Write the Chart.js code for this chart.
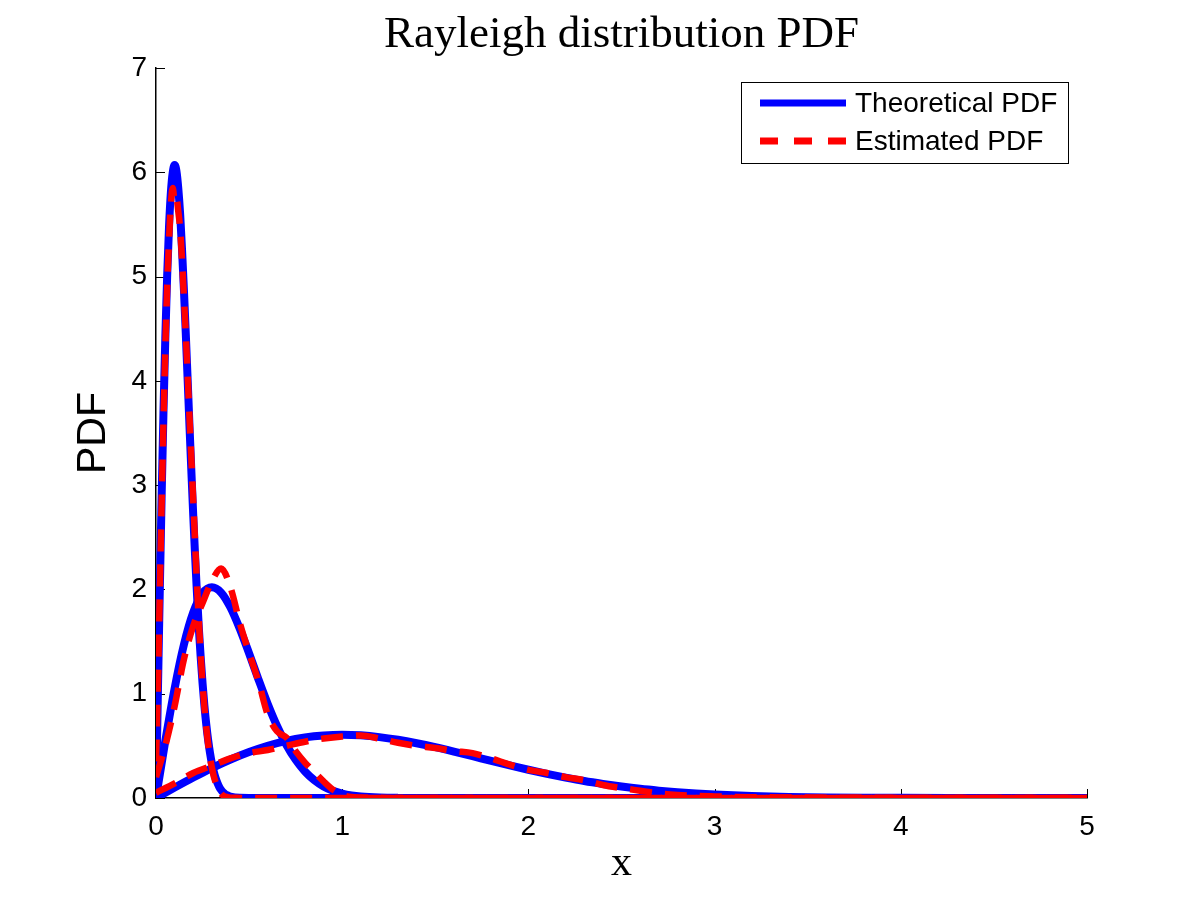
<!DOCTYPE html>
<html>
<head>
<meta charset="utf-8">
<script src="https://cdn.jsdelivr.net/npm/chart.js@4.4.1/dist/chart.umd.min.js"></script>
<style>
  html, body { margin: 0; padding: 0; background: #ffffff; }
  #wrap { width: 1200px; height: 903px; position: relative; }
</style>
</head>
<body>
<div id="wrap"><canvas id="c"></canvas></div>
<script>
// ---- data ----
const xTicks = [0, 1, 2, 3, 4, 5];
const yTicks = [0, 1, 2, 3, 4, 5, 6, 7];
const legendLabels = ['Theoretical PDF', 'Estimated PDF'];

// sigma = 0.1
const sigma01X = [0,0.01,0.02,0.03,0.04,0.05,0.06,0.07,0.08,0.09,0.10,0.11,0.12,0.13,0.14,0.15,0.16,0.17,0.18,0.19,0.20,
  0.21,0.22,0.23,0.24,0.25,0.26,0.27,0.28,0.29,0.30,0.31,0.32,0.33,0.34,0.35,0.36,0.37,0.38,0.39,0.40,0.45,0.5,1,2,3,4,5];
const sigma01Theoretical = [0,0.995,1.96,2.87,3.69,4.41,5.01,5.48,5.81,6.00,6.07,6.01,5.84,5.59,5.25,4.87,4.45,4.01,3.56,3.13,2.71,
  2.32,1.96,1.63,1.35,1.10,0.885,0.705,0.556,0.433,0.333,0.254,0.191,0.143,0.105,0.0767,0.055,0.0394,0.028,0.0194,0.0134,0.0018,0.0002,0,0,0,0,0];
const sigma01Estimated = [0.35,1.05,1.95,2.8,3.6,4.3,4.9,5.35,5.7,5.85,5.72,5.75,5.62,5.45,5.15,4.8,4.45,4.05,3.65,3.25,2.85,
  2.45,2.05,1.7,1.38,1.1,0.87,0.68,0.52,0.39,0.29,0.21,0.15,0.1,0.065,0.04,0.025,0.015,0.01,0.005,0.003,0.001,0,0,0,0,0,0];

// sigma = 0.3
const sigma03X = [0,0.05,0.1,0.15,0.2,0.25,0.3,0.35,0.4,0.45,0.5,0.55,0.6,0.65,0.7,0.75,0.8,0.85,0.9,0.95,1.0,1.05,1.1,1.2,1.3,1.5,2,3,4,5];
const sigma03Theoretical = [0,0.548,1.051,1.471,1.78,1.963,2.02,1.969,1.827,1.623,1.386,1.138,0.902,0.691,0.511,0.366,0.254,0.171,0.111,0.070,0.043,0.0255,0.0147,0.0045,0.0012,0.0001,0,0,0,0];
const sigma03Estimated = [0.2,0.5,0.88,1.33,1.65,1.87,2.08,2.2,2.02,1.68,1.39,1.12,0.8,0.64,0.58,0.45,0.34,0.25,0.16,0.08,0.03,0.01,0.005,0.002,0.001,0,0,0,0,0];

// sigma = 1
const sigma1X = [0,0.1,0.2,0.3,0.4,0.5,0.6,0.7,0.8,0.9,1.0,1.1,1.2,1.3,1.4,1.5,1.6,1.7,1.8,1.9,2.0,2.1,2.2,2.3,2.4,2.5,2.6,2.7,2.8,2.9,3.0,3.2,3.4,3.6,3.8,4.0,4.5,5];
const sigma1Theoretical = [0,0.0995,0.196,0.287,0.369,0.441,0.501,0.548,0.581,0.600,0.607,0.601,0.584,0.558,0.525,0.487,0.445,0.401,0.356,0.313,0.271,0.232,0.196,0.163,0.135,0.110,0.0883,0.0706,0.0555,0.0433,0.0333,0.0191,0.0105,0.0055,0.0028,0.0013,0.0002,0];
const sigma1Estimated = [0.05,0.14,0.24,0.31,0.38,0.43,0.46,0.5,0.54,0.57,0.59,0.6,0.57,0.53,0.5,0.48,0.45,0.43,0.38,0.32,0.27,0.24,0.2,0.17,0.125,0.095,0.07,0.045,0.03,0.02,0.015,0.008,0.005,0.003,0.002,0.001,0,0];

// ---- styles ----
const BLUE = '#0000ff';
const RED = '#ff0000';
const BLUE_W = 8;
const RED_W = 6.5;
const DASH = [22, 13];

const pts = (xs, ys) => xs.map((x, i) => ({ x: x, y: ys[i] }));

function theoSet(xs, ys) {
  return { label: legendLabels[0], data: pts(xs, ys), borderColor: BLUE, backgroundColor: BLUE,
    borderWidth: BLUE_W, pointRadius: 0, fill: false, cubicInterpolationMode: 'monotone',
    borderCapStyle: 'butt', borderJoinStyle: 'round', order: 1 };
}
function estSet(xs, ys) {
  return { label: legendLabels[1], data: pts(xs, ys), borderColor: RED, backgroundColor: RED,
    borderWidth: RED_W, borderDash: DASH, pointRadius: 0, fill: false, cubicInterpolationMode: 'monotone',
    borderCapStyle: 'butt', borderJoinStyle: 'round', order: 0 };
}

// inward tick marks (MATLAB style)
const inwardTicks = {
  id: 'inwardTicks',
  beforeDatasetsDraw(chart) {
    const { ctx, chartArea, scales } = chart;
    ctx.save();
    ctx.strokeStyle = '#000';
    ctx.lineWidth = 1;
    const len = 9;
    yTicks.forEach(v => {
      const py = Math.round(scales.y.getPixelForValue(v)) + 0.5;
      ctx.beginPath();
      ctx.moveTo(chartArea.left, py);
      ctx.lineTo(chartArea.left + len, py);
      ctx.stroke();
    });
    xTicks.forEach(v => {
      const px = Math.round(scales.x.getPixelForValue(v)) + 0.5;
      ctx.beginPath();
      ctx.moveTo(px, chartArea.bottom);
      ctx.lineTo(px, chartArea.bottom - len);
      ctx.stroke();
    });
    ctx.restore();
  }
};

// boxed legend
const boxLegend = {
  id: 'boxLegend',
  afterDraw(chart) {
    const { ctx } = chart;
    const bx = 741.5, by = 82.5, bw = 327, bh = 81;
    ctx.save();
    ctx.fillStyle = '#fff';
    ctx.fillRect(bx, by, bw, bh);
    ctx.strokeStyle = '#000';
    ctx.lineWidth = 1;
    ctx.strokeRect(bx, by, bw, bh);
    const rows = [
      { y: 103, color: BLUE, w: 7, dash: [] , text: legendLabels[0] },
      { y: 141, color: RED, w: 7, dash: [18, 16], text: legendLabels[1] }
    ];
    rows.forEach(r => {
      ctx.beginPath();
      ctx.setLineDash(r.dash);
      ctx.strokeStyle = r.color;
      ctx.lineWidth = r.w;
      ctx.lineCap = 'butt';
      ctx.moveTo(760, r.y);
      ctx.lineTo(846, r.y);
      ctx.stroke();
      ctx.setLineDash([]);
      ctx.fillStyle = '#000';
      ctx.font = '28px "Liberation Sans", Arial, sans-serif';
      ctx.textAlign = 'left';
      ctx.textBaseline = 'middle';
      ctx.fillText(r.text, 855, r.y + 1);
    });
    ctx.restore();
  }
};

Chart.defaults.font.family = '"Liberation Sans", Arial, sans-serif';
Chart.defaults.color = '#000';

new Chart(document.getElementById('c'), {
  type: 'line',
  data: {
    datasets: [
      theoSet(sigma01X, sigma01Theoretical),
      theoSet(sigma03X, sigma03Theoretical),
      theoSet(sigma1X, sigma1Theoretical),
      estSet(sigma01X, sigma01Estimated),
      estSet(sigma03X, sigma03Estimated),
      estSet(sigma1X, sigma1Estimated)
    ]
  },
  options: {
    responsive: true,
    maintainAspectRatio: false,
    animation: false,
    events: [],
    layout: { padding: { left: 0, right: 113, top: 0, bottom: 0 } },
    plugins: {
      legend: { display: false },
      tooltip: { enabled: false },
      title: {
        display: true,
        fullSize: false,
        text: 'Rayleigh distribution PDF',
        color: '#000',
        font: { family: '"Liberation Serif", "Times New Roman", serif', size: 45, weight: 'normal', lineHeight: 1.2 },
        padding: { top: 8, bottom: 6 }
      }
    },
    scales: {
      x: {
        type: 'linear',
        min: 0, max: 5,
        afterBuildTicks(scale) { scale.ticks = xTicks.map(v => ({ value: v })); },
        afterFit(scale) { scale.height = 105; },
        grid: { display: false, drawTicks: false },
        border: { display: true, color: '#000', width: 1.5 },
        ticks: { color: '#000', padding: 12, font: { size: 28 }, maxRotation: 0 },
        title: {
          display: true, text: 'x', color: '#000',
          font: { family: '"Liberation Serif", "Times New Roman", serif', size: 42, weight: 'normal', lineHeight: 1.2 },
          padding: { top: 0, bottom: 14 }
        }
      },
      y: {
        type: 'linear',
        min: 0, max: 7,
        afterBuildTicks(scale) { scale.ticks = yTicks.map(v => ({ value: v })); },
        afterFit(scale) { scale.width = 156; },
        grid: { display: false, drawTicks: false },
        border: { display: true, color: '#000', width: 1.5 },
        ticks: { color: '#000', padding: 9, font: { size: 28 } },
        title: {
          display: true, text: 'PDF', color: '#000',
          font: { size: 41, weight: 'normal', lineHeight: 1.2 },
          padding: { top: 69, bottom: 0 }
        }
      }
    }
  },
  plugins: [inwardTicks, boxLegend]
});
</script>
</body>
</html>
